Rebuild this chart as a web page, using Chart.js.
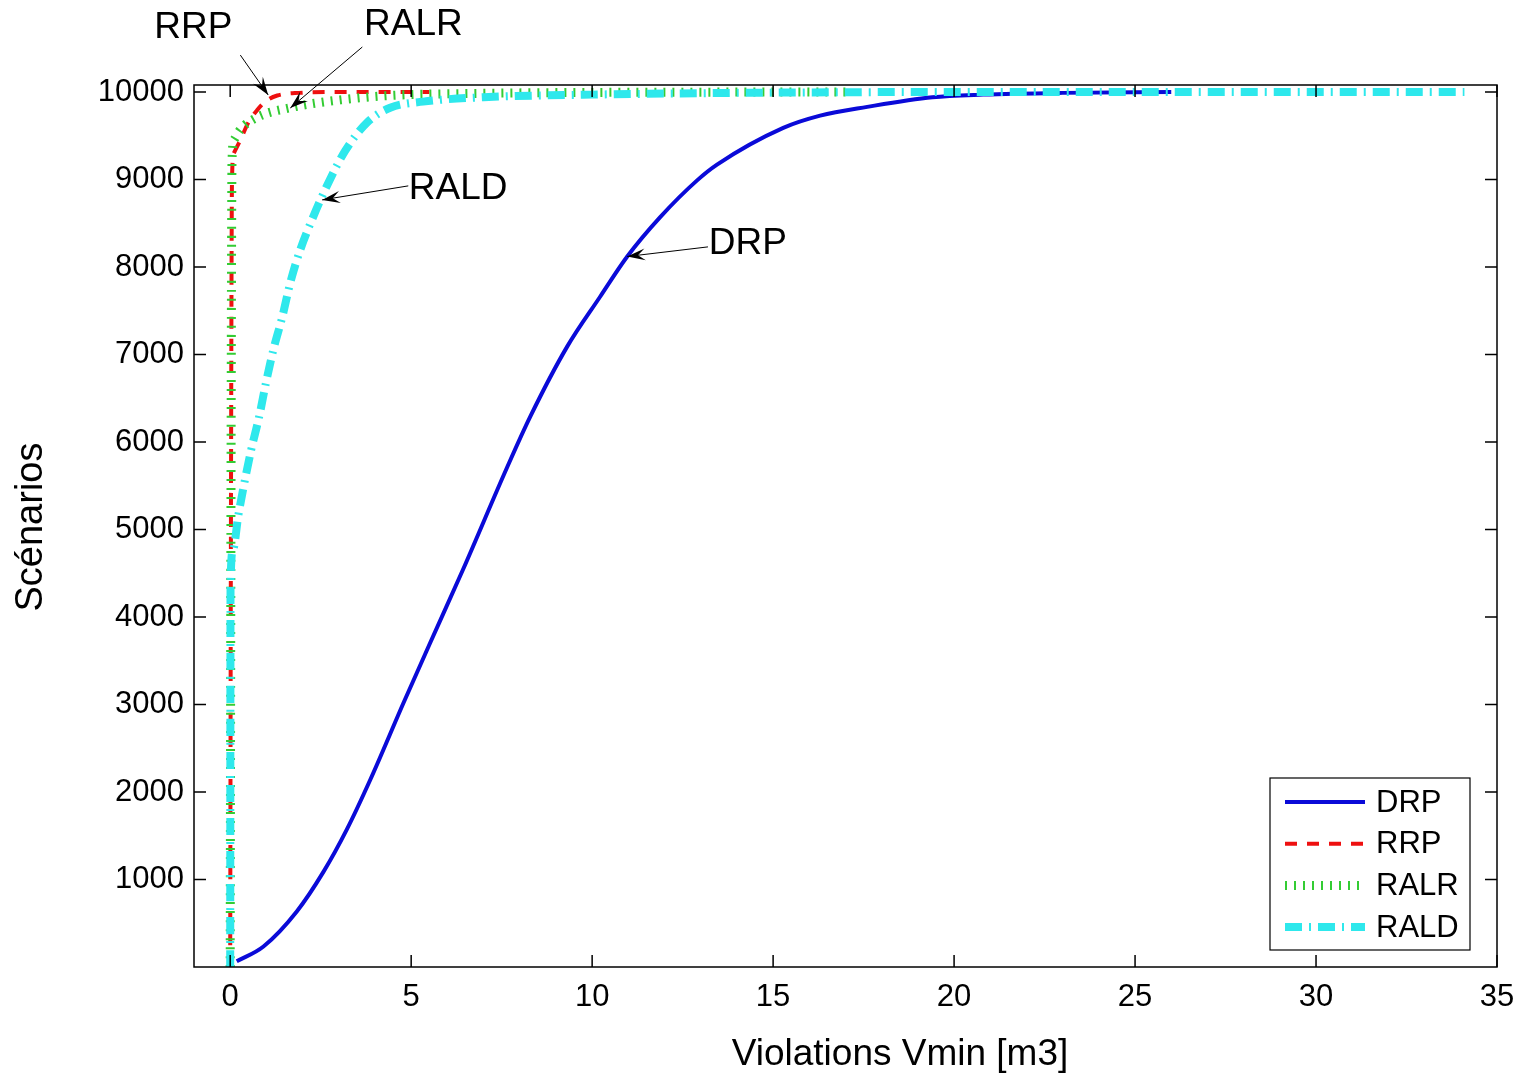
<!DOCTYPE html>
<html>
<head>
<meta charset="utf-8">
<script src="https://cdn.jsdelivr.net/npm/chart.js@4.4.0/dist/chart.umd.min.js"></script>
<style>
  html, body { margin: 0; padding: 0; background: #fff; }
  #chart { display: block; }
</style>
</head>
<body>
<canvas id="chart" width="1520" height="1076"></canvas>
<script>
// series (x = violations, y = scenarios)
const drpX = [0.18, 0.92, 1.84, 2.58, 3.22, 3.87, 4.79, 5.52, 6.43, 7.64, 8.29, 9.31, 10.22, 10.97, 11.88, 12.9, 13.45, 15.28, 16.3, 17.6, 19.4, 20.8, 23, 26];
const drpY = [65, 235, 635, 1090, 1570, 2140, 3020, 3700, 4540, 5700, 6290, 7090, 7660, 8120, 8570, 8990, 9170, 9590, 9730, 9830, 9940, 9970, 9990, 10000];

const rrpX = [0, 0.02, 0.05, 0.1, 0.28, 0.5, 0.74, 1.0, 1.3, 1.9, 3.0, 5.5];
const rrpY = [0, 5000, 9000, 9300, 9450, 9650, 9790, 9900, 9960, 9990, 10000, 10000];

const ralrX = [0, 0.02, 0.05, 0.1, 0.28, 0.74, 1.66, 3.04, 4.42, 7, 10, 17];
const ralrY = [0, 5000, 9200, 9450, 9570, 9710, 9820, 9910, 9960, 9985, 9995, 10000];

const raldX = [0, 0.01, 0.08, 0.22, 0.39, 0.58, 0.80, 0.99, 1.19, 1.44, 1.66, 1.93, 2.29, 2.71, 3.18, 3.78, 4.42, 5.33, 7.0, 10, 14, 20, 34.1];
const raldY = [0, 4390, 4770, 5150, 5530, 5910, 6290, 6680, 7050, 7430, 7820, 8190, 8570, 8960, 9330, 9650, 9820, 9890, 9940, 9970, 9990, 10000, 10000];

const seriesNames = ['DRP', 'RRP', 'RALR', 'RALD'];
const xTickValues = [0, 5, 10, 15, 20, 25, 30, 35];
const yTickValues = [1000, 2000, 3000, 4000, 5000, 6000, 7000, 8000, 9000, 10000];
const xRange = [-1, 35];
const yRange = [0, 10080];

// callouts in data units: label position, arrow tail, arrow tip
const calloutNames = ['RRP', 'RALR', 'RALD', 'DRP'];
const calloutText = [[-1.02, 10731], [5.06, 10765], [6.3, 8892], [14.3, 8261]];
const calloutTail = [[0.28, 10422], [3.65, 10514], [4.92, 8927], [13.2, 8230]];
const calloutTip = [[1.05, 9966], [1.66, 9817], [2.54, 8767], [10.97, 8120]];

const FONT = "Arial, 'Liberation Sans', Helvetica, sans-serif";

function toPoints(xs, ys) {
    return xs.map((x, i) => ({ x: x, y: ys[i] }));
}

// MATLAB-like frame: box, inward ticks, legend, callouts, axis titles
const matlabFrame = {
    id: 'matlabFrame',
    afterDraw(chart) {
        const ctx = chart.ctx;
        const a = chart.chartArea;
        const xs = chart.scales.x;
        const ys = chart.scales.y;
        const tick = 12;

        ctx.save();
        ctx.strokeStyle = '#000';
        ctx.lineWidth = 1.5;
        ctx.strokeRect(a.left, a.top, a.right - a.left, a.bottom - a.top);

        ctx.beginPath();
        xTickValues.forEach(v => {
            const px = xs.getPixelForValue(v);
            ctx.moveTo(px, a.bottom); ctx.lineTo(px, a.bottom - tick);
            ctx.moveTo(px, a.top); ctx.lineTo(px, a.top + tick);
        });
        yTickValues.forEach(v => {
            const py = ys.getPixelForValue(v);
            ctx.moveTo(a.left, py); ctx.lineTo(a.left + tick, py);
            ctx.moveTo(a.right, py); ctx.lineTo(a.right - tick, py);
        });
        ctx.stroke();

        // axis titles
        ctx.fillStyle = '#000';
        ctx.textAlign = 'center';
        ctx.textBaseline = 'middle';
        ctx.font = '37px ' + FONT;
        ctx.fillText('Violations Vmin [m3]', 900, 1055);
        ctx.save();
        ctx.translate(32, 527);
        ctx.rotate(-Math.PI / 2);
        ctx.font = '38px ' + FONT;
        ctx.fillText('Scénarios', 0, 0);
        ctx.restore();

        // callouts
        ctx.font = '37px ' + FONT;
        calloutNames.forEach((name, i) => {
            const tx = xs.getPixelForValue(calloutText[i][0]);
            const ty = ys.getPixelForValue(calloutText[i][1]);
            const x0 = xs.getPixelForValue(calloutTail[i][0]);
            const y0 = ys.getPixelForValue(calloutTail[i][1]);
            const x1 = xs.getPixelForValue(calloutTip[i][0]);
            const y1 = ys.getPixelForValue(calloutTip[i][1]);
            ctx.fillText(name, tx, ty);
            ctx.lineWidth = 1;
            ctx.beginPath();
            ctx.moveTo(x0, y0); ctx.lineTo(x1, y1);
            ctx.stroke();
            const ang = Math.atan2(y1 - y0, x1 - x0);
            const len = 18, half = 6;
            const bx = x1 - len * Math.cos(ang), by = y1 - len * Math.sin(ang);
            const cx = x1 - len * 0.6 * Math.cos(ang), cy = y1 - len * 0.6 * Math.sin(ang);
            ctx.beginPath();
            ctx.moveTo(x1, y1);
            ctx.lineTo(bx + half * Math.sin(ang), by - half * Math.cos(ang));
            ctx.lineTo(cx, cy);
            ctx.lineTo(bx - half * Math.sin(ang), by + half * Math.cos(ang));
            ctx.closePath();
            ctx.fill();
        });

        // legend box
        const lx = 1270, ly = 778, lw = 200, lh = 172;
        ctx.fillStyle = '#fff';
        ctx.fillRect(lx, ly, lw, lh);
        ctx.strokeStyle = '#000';
        ctx.lineWidth = 1.2;
        ctx.strokeRect(lx, ly, lw, lh);
        ctx.font = '31px ' + FONT;
        ctx.textAlign = 'left';
        chart.data.datasets.forEach((ds, i) => {
            const y = ly + 24 + i * 41.7;
            ctx.save();
            ctx.strokeStyle = ds.borderColor;
            ctx.lineWidth = ds.borderWidth;
            ctx.setLineDash(ds.borderDash || []);
            ctx.beginPath();
            ctx.moveTo(lx + 15, y); ctx.lineTo(lx + 95, y);
            ctx.stroke();
            ctx.restore();
            ctx.fillStyle = '#000';
            ctx.fillText(ds.label, lx + 106, y + 1);
        });
        ctx.restore();
    }
};

const datasets = [
    { label: seriesNames[0], data: toPoints(drpX, drpY), borderColor: '#0a0ad8', borderWidth: 4, borderDash: [], order: 4 },
    { label: seriesNames[1], data: toPoints(rrpX, rrpY), borderColor: '#ee1010', borderWidth: 4, borderDash: [12, 10], order: 3 },
    { label: seriesNames[2], data: toPoints(ralrX, ralrY), borderColor: '#33cc33', borderWidth: 9, borderDash: [2, 7], order: 2 },
    { label: seriesNames[3], data: toPoints(raldX, raldY), borderColor: '#2ee8ec', borderWidth: 8, borderDash: [17, 7, 2, 7], order: 1 }
];
datasets.forEach(ds => {
    ds.pointRadius = 0;
    ds.fill = false;
    ds.cubicInterpolationMode = 'monotone';
    ds.borderCapStyle = 'butt';
});

new Chart(document.getElementById('chart'), {
    type: 'line',
    data: { datasets: datasets },
    options: {
        responsive: false,
        animation: false,
        layout: { padding: { left: 0, right: 23, top: 85, bottom: 0 } },
        plugins: { legend: { display: false }, tooltip: { enabled: false } },
        scales: {
            x: {
                type: 'linear',
                min: xRange[0],
                max: xRange[1],
                afterBuildTicks: s => { s.ticks = xTickValues.map(v => ({ value: v })); },
                afterFit: s => { s.height = 109; s.paddingLeft = 0; s.paddingRight = 0; },
                grid: { display: false, drawTicks: false },
                border: { display: false },
                ticks: { color: '#000', padding: 12, maxRotation: 0, callback: v => String(v), font: { size: 31, family: FONT } }
            },
            y: {
                type: 'linear',
                min: yRange[0],
                max: yRange[1],
                afterBuildTicks: s => { s.ticks = yTickValues.map(v => ({ value: v })); },
                afterFit: s => { s.width = 194; s.paddingTop = 0; s.paddingBottom = 0; },
                grid: { display: false, drawTicks: false },
                border: { display: false },
                ticks: { color: '#000', padding: 10, callback: v => String(v), font: { size: 31, family: FONT } }
            }
        }
    },
    plugins: [matlabFrame]
});
</script>
</body>
</html>
